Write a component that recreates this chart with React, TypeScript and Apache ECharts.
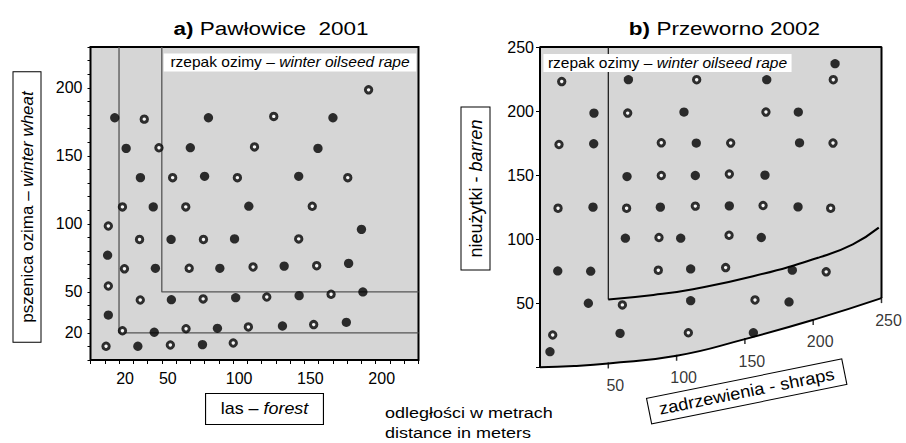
import React, { useEffect, useRef } from "react";
import * as echarts from "echarts";

const FONT = '"Liberation Sans", Arial, sans-serif';
const GRAY = "#d6d6d6";

// Panel a) Pawłowice 2001
const leftTicks = [20, 50, 100, 150, 200];
const leftFilled: number[][] = [
  [17, 178], [82.7, 178], [170, 178],
  [25, 155.5], [70, 156], [159.5, 155.5],
  [35, 134], [80, 135], [146, 135],
  [44, 112.5], [111, 113],
  [190, 96],
  [56.5, 88.6], [101, 89],
  [12, 77],
  [45.5, 67.4], [90.7, 67.4], [135.8, 69], [181, 71],
  [56.7, 44.3], [101.8, 45.8], [146.3, 47.3], [191, 50],
  [12.5, 33],
  [44.7, 20.4], [89, 23.3], [134.6, 25], [179.4, 27.7],
  [33.2, 10.1], [78.5, 11.3],
];
const leftOpen: number[][] = [
  [37.7, 177], [128.5, 179], [195, 198.5],
  [48, 156], [115, 156.6],
  [57.6, 134], [103, 134], [180.4, 134],
  [22.4, 112.5], [66.8, 112.5], [155.5, 113],
  [12.5, 98.5],
  [34.4, 88.6], [79.2, 88.6], [146, 89],
  [23.8, 67], [69.2, 67.4], [114, 68.4], [158.6, 69.3],
  [12.5, 54.4],
  [34.9, 44.1], [79, 44.9], [123.6, 46.3], [168.7, 48.3],
  [22.4, 21.5], [67, 23], [110.7, 24.3], [156.5, 26],
  [10.9, 10.1], [56, 11], [100.1, 12.5],
];
const leftLine20: number[][] = [[20, 230], [20, 20], [230, 20]];
const leftLine50: number[][] = [[50, 230], [50, 50], [230, 50]];

// Panel b) Przeworno 2002
const rightYTicks = [50, 100, 150, 200, 250];
const rightXTicks = [50, 100, 150, 200, 250];
const outerCurve: number[][] = [[0, 0], [25, 1], [50, 3], [100, 9], [150, 22], [200, 37], [250, 54]];
const innerCurve: number[][] = [[50, 53], [83, 56.5], [112, 61], [156, 71], [205, 86], [229, 96], [248, 109]];
const rightFilled: number[][] = [
  [216, 237],
  [64.7, 224.5], [166, 224.5],
  [39.5, 198.4], [105.4, 199.2], [189.1, 199.2],
  [39.3, 174.5], [114.4, 175], [190, 175.2],
  [63.7, 148.9], [113.7, 149.7], [164.7, 150],
  [38.8, 125], [88.1, 125], [138.6, 126], [188.9, 125.2],
  [62.5, 100.8], [103, 100.8], [162, 101.3],
  [13, 75.2], [37.1, 75], [110.3, 76.8], [184.7, 75.8],
  [35.4, 50], [110.3, 52], [182.3, 51],
  [58.6, 26.5], [156.2, 27],
  [7.3, 12.2],
];
const rightOpen: number[][] = [
  [15.9, 223], [114.7, 224.5], [214.7, 224.5],
  [64.2, 198.4], [165.4, 199.2],
  [13.9, 173.9], [88.8, 175.2], [139.6, 175], [214.5, 175],
  [88.8, 149.7], [138.6, 150.8],
  [13.2, 124.2], [63.4, 124.2], [113.7, 125.8], [163.3, 126.3], [212.8, 124.2],
  [87.1, 101.3], [138.4, 103.1],
  [86.6, 75.8], [135.9, 77.8], [209.5, 74.5],
  [60.3, 48.7], [157.4, 52.6],
  [9.3, 25.2], [108.6, 27],
];

const filledStyle = { color: "#000" };
const openStyle = { color: "#fff", borderColor: "#000", borderWidth: 3 };

function rt(size: number, extra: any = {}) {
  return { fontSize: size, fontFamily: FONT, fill: "#000", ...extra };
}

export default function App() {
  const ref = useRef<HTMLDivElement>(null);
  useEffect(() => {
    if (!ref.current) return;
    const chart = echarts.init(ref.current, undefined, { renderer: "svg" });
    const curveTicks = outerCurve.filter((p) => rightXTicks.includes(p[0]));
    const frame = [outerCurve[0], [0, 250], [250, 250], outerCurve[outerCurve.length - 1]];
    const option: any = {
      animation: false,
      textStyle: { fontFamily: FONT },
      grid: [
        { left: 90.5, top: 47, width: 328, height: 313, show: true, backgroundColor: GRAY, borderColor: "#000", borderWidth: 2 },
        { left: 540, top: 47, width: 341.5, height: 320.3, show: false },
      ],
      xAxis: [
        {
          gridIndex: 0, type: "value", min: 0, max: 230, interval: 10,
          axisLine: { show: false },
          axisTick: { show: true, length: 4, lineStyle: { color: "#000" } },
          splitLine: { show: false },
          axisLabel: {
            fontSize: 16, color: "#000", margin: 10, padding: [0, 0, 0, 12], fontFamily: FONT,
            formatter: (v: number) => (leftTicks.includes(v) ? String(v) : ""),
          },
        },
        { gridIndex: 1, type: "value", min: 0, max: 250, show: false },
      ],
      yAxis: [
        {
          gridIndex: 0, type: "value", min: 0, max: 230, interval: 10,
          axisLine: { show: false },
          axisTick: { show: true, length: 3, lineStyle: { color: "#000" } },
          splitLine: { show: false },
          axisLabel: {
            fontSize: 16, color: "#000", margin: 8, fontFamily: FONT,
            formatter: (v: number) => (leftTicks.includes(v) ? String(v) : ""),
          },
        },
        {
          gridIndex: 1, type: "value", min: 0, max: 250, interval: 50,
          axisLine: { show: false },
          axisTick: { show: true, length: 4, lineStyle: { color: "#000" } },
          splitLine: { show: false },
          axisLabel: {
            fontSize: 16, color: "#000", margin: 6, fontFamily: FONT,
            formatter: (v: number) => (rightYTicks.includes(v) ? String(v) : ""),
          },
        },
      ],
      series: [
        {
          type: "line", xAxisIndex: 1, yAxisIndex: 1, data: outerCurve, smooth: true, symbol: "none",
          lineStyle: { color: "#000", width: 2 }, areaStyle: { color: GRAY, opacity: 1, origin: "end" },
          z: 1, clip: false,
        },
        {
          type: "line", xAxisIndex: 1, yAxisIndex: 1, data: frame, symbol: "none",
          lineStyle: { color: "#000", width: 2 }, z: 3, clip: false,
        },
        {
          type: "line", xAxisIndex: 1, yAxisIndex: 1, data: [[50, 250], innerCurve[0]], symbol: "none",
          lineStyle: { color: "#111", width: 1.2 }, z: 3, clip: false,
        },
        {
          type: "line", xAxisIndex: 1, yAxisIndex: 1, data: innerCurve, smooth: true, symbol: "none",
          lineStyle: { color: "#000", width: 2 }, z: 3, clip: false,
        },
        {
          type: "scatter", xAxisIndex: 1, yAxisIndex: 1, data: curveTicks, symbol: "rect",
          symbolSize: [1.5, 6], symbolOffset: [0, 2], itemStyle: { color: "#000" }, z: 4, clip: false,
          label: {
            show: true, position: "inside", offset: [7, 20], fontSize: 16, color: "#000", fontFamily: FONT,
            formatter: (p: any) => String(p.value[0]),
          },
        },
        { type: "scatter", xAxisIndex: 1, yAxisIndex: 1, data: rightFilled, symbolSize: 9.3, itemStyle: filledStyle, z: 5 },
        { type: "scatter", xAxisIndex: 1, yAxisIndex: 1, data: rightOpen, symbolSize: 6.4, itemStyle: openStyle, z: 5 },
        {
          type: "line", xAxisIndex: 0, yAxisIndex: 0, data: leftLine20, symbol: "none",
          lineStyle: { color: "#555", width: 1.3 }, z: 3,
        },
        {
          type: "line", xAxisIndex: 0, yAxisIndex: 0, data: leftLine50, symbol: "none",
          lineStyle: { color: "#555", width: 1.3 }, z: 3,
        },
        { type: "scatter", xAxisIndex: 0, yAxisIndex: 0, data: leftFilled, symbolSize: 9.3, itemStyle: filledStyle, z: 5 },
        { type: "scatter", xAxisIndex: 0, yAxisIndex: 0, data: leftOpen, symbolSize: 6.4, itemStyle: openStyle, z: 5 },
      ],
      graphic: [
        {
          type: "text", x: 271, y: 29, scaleX: 1.25, z: 10,
          style: {
            text: "{b|a)} {n|Pawłowice  2001}", align: "center", verticalAlign: "middle",
            rich: { b: rt(18, { fontWeight: "bold" }), n: rt(18) }, ...rt(18),
          },
        },
        {
          type: "text", x: 724.5, y: 29, scaleX: 1.25, z: 10,
          style: {
            text: "{b|b)} {n|Przeworno 2002}", align: "center", verticalAlign: "middle",
            rich: { b: rt(18, { fontWeight: "bold" }), n: rt(18) }, ...rt(18),
          },
        },
        {
          type: "text", x: 290, y: 62.5, scaleX: 1.11, z: 10,
          style: {
            text: "{n|rzepak ozimy – }{i|winter oilseed rape}", align: "center", verticalAlign: "middle",
            rich: { n: rt(14), i: rt(14, { fontStyle: "italic" }) }, ...rt(14),
            backgroundColor: "#fff", padding: [2, 6, 2, 6],
          },
        },
        {
          type: "text", x: 667.5, y: 63, scaleX: 1.11, z: 10,
          style: {
            text: "{n|rzepak ozimy – }{i|winter oilseed rape}", align: "center", verticalAlign: "middle",
            rich: { n: rt(14), i: rt(14, { fontStyle: "italic" }) }, ...rt(14),
            backgroundColor: "#fff", padding: [2, 4, 2, 4],
          },
        },
        {
          type: "text", x: 264.5, y: 409, scaleX: 1.12, z: 10,
          style: {
            text: "{n|las – }{i|forest}", align: "center", verticalAlign: "middle",
            rich: { n: rt(16), i: rt(16, { fontStyle: "italic" }) }, ...rt(16),
            backgroundColor: "#fff", borderColor: "#000", borderWidth: 1, padding: [7, 13, 7, 13],
          },
        },
        {
          type: "text", x: 27, y: 207, rotation: Math.PI / 2, z: 10,
          style: {
            text: "{n|pszenica ozima – }{i|winter wheat}", align: "center", verticalAlign: "middle",
            rich: { n: rt(17), i: rt(17, { fontStyle: "italic" }) }, ...rt(17),
            backgroundColor: "#fff", borderColor: "#000", borderWidth: 1, padding: [5, 19, 5, 19],
          },
        },
        {
          type: "text", x: 475.5, y: 188.5, rotation: Math.PI / 2, z: 10,
          style: {
            text: "{n|nieużytki - }{i|barren}", align: "center", verticalAlign: "middle",
            rich: { n: rt(18), i: rt(18, { fontStyle: "italic" }) }, ...rt(18),
            backgroundColor: "#fff", borderColor: "#000", borderWidth: 1, padding: [5, 12, 5, 12],
          },
        },
        {
          type: "text", x: 746.7, y: 391.4, rotation: 0.199, scaleX: 1.08, z: 10,
          style: {
            text: "zadrzewienia - shraps", align: "center", verticalAlign: "middle", ...rt(17),
            backgroundColor: "#fff", borderColor: "#000", borderWidth: 1, padding: [4, 9, 4, 9],
          },
        },
        {
          type: "text", x: 385, y: 413, scaleX: 1.2, z: 10,
          style: { text: "odległości w metrach", align: "left", verticalAlign: "middle", ...rt(15) },
        },
        {
          type: "text", x: 385, y: 433, scaleX: 1.2, z: 10,
          style: { text: "distance in meters", align: "left", verticalAlign: "middle", ...rt(15) },
        },
      ],
    };
    chart.setOption(option);
    return () => chart.dispose();
  }, []);
  return (
    <div
      ref={ref}
      style={{ position: "fixed", left: 0, top: 0, width: 906, height: 443, background: "#fff" }}
    />
  );
}
